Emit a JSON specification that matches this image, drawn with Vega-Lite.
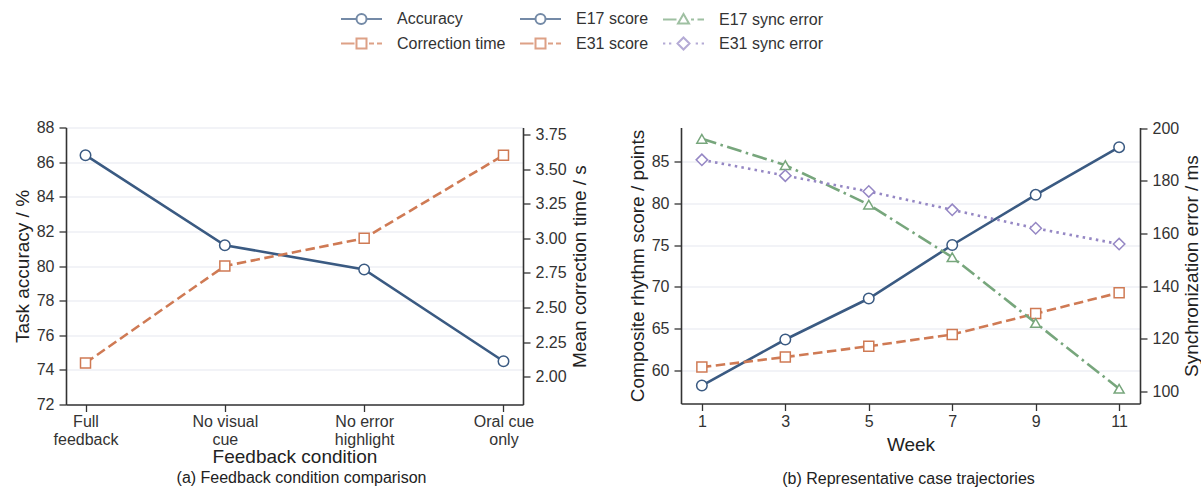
{
  "$schema": "https://vega.github.io/schema/vega-lite/v6.json",
  "padding": {"left": 13, "top": 10.5, "right": 5, "bottom": 5},
  "background": "white",
  "datasets": {
    "a": [
      {"series": "Accuracy", "condition": "Full feedback", "value": 86.4},
      {"series": "Accuracy", "condition": "No visual cue", "value": 81.2},
      {"series": "Accuracy", "condition": "No error highlight", "value": 79.8},
      {"series": "Accuracy", "condition": "Oral cue only", "value": 74.5},
      {"series": "Correction time", "condition": "Full feedback", "value": 2.1},
      {"series": "Correction time", "condition": "No visual cue", "value": 2.8},
      {"series": "Correction time", "condition": "No error highlight", "value": 3.0},
      {"series": "Correction time", "condition": "Oral cue only", "value": 3.6}
    ],
    "b": [
      {"series": "E17 score", "week": 1, "value": 58.2},
      {"series": "E17 score", "week": 3, "value": 63.7},
      {"series": "E17 score", "week": 5, "value": 68.6},
      {"series": "E17 score", "week": 7, "value": 75.0},
      {"series": "E17 score", "week": 9, "value": 81.0},
      {"series": "E17 score", "week": 11, "value": 86.7},
      {"series": "E31 score", "week": 1, "value": 60.4},
      {"series": "E31 score", "week": 3, "value": 61.6},
      {"series": "E31 score", "week": 5, "value": 62.9},
      {"series": "E31 score", "week": 7, "value": 64.3},
      {"series": "E31 score", "week": 9, "value": 66.8},
      {"series": "E31 score", "week": 11, "value": 69.3},
      {"series": "E17 sync error", "week": 1, "value": 196},
      {"series": "E17 sync error", "week": 3, "value": 186},
      {"series": "E17 sync error", "week": 5, "value": 171},
      {"series": "E17 sync error", "week": 7, "value": 151},
      {"series": "E17 sync error", "week": 9, "value": 126},
      {"series": "E17 sync error", "week": 11, "value": 101},
      {"series": "E31 sync error", "week": 1, "value": 188},
      {"series": "E31 sync error", "week": 3, "value": 182},
      {"series": "E31 sync error", "week": 5, "value": 176},
      {"series": "E31 sync error", "week": 7, "value": 169},
      {"series": "E31 sync error", "week": 9, "value": 162},
      {"series": "E31 sync error", "week": 11, "value": 156}
    ]
  },
  "spacing": 38,
  "resolve": {"scale": {"color": "shared", "shape": "shared"}, "legend": {"color": "shared", "shape": "shared"}},
  "hconcat": [
    {
      "data": {"name": "a"},
      "width": 457,
      "height": 277,
      "title": {"text": "(a) Feedback condition comparison", "orient": "bottom", "fontSize": 16, "fontWeight": "normal", "color": "#222222", "font": "Liberation Sans", "offset": 3, "frame": "group", "anchor": "middle", "dx": 7},
      "encoding": {
        "x": {
          "field": "condition", "type": "nominal",
          "scale": {"type": "point", "domain": ["Full feedback", "No visual cue", "No error highlight", "Oral cue only"], "padding": 0.14},
          "axis": {
            "title": "Feedback condition", "labelAngle": 0, "grid": false, "labelLineHeight": 18, "labelPadding": 2, "titlePadding": 0,
            "labelExpr": "datum.value == 'Full feedback' ? ['Full', 'feedback'] : datum.value == 'No visual cue' ? ['No visual', 'cue'] : datum.value == 'No error highlight' ? ['No error', 'highlight'] : ['Oral cue', 'only']"
          }
        }
      },
      "layer": [
        {
          "transform": [{"filter": "datum.series == 'Accuracy'"}],
          "encoding": {
            "y": {"field": "value", "type": "quantitative", "scale": {"domain": [72, 88], "nice": false, "zero": false},
                  "axis": {"title": "Task accuracy / %", "values": [72, 74, 76, 78, 80, 82, 84, 86, 88], "grid": true, "titlePadding": 4}}
          },
          "layer": [
            {"mark": {"type": "line", "color": "#3a5a82", "strokeWidth": 2.6}},
            {"mark": {"type": "point", "shape": "circle", "size": 110, "filled": true, "fill": "white", "stroke": "#3a5a82", "strokeWidth": 1.5, "opacity": 1}}
          ]
        },
        {
          "transform": [{"filter": "datum.series == 'Correction time'"}],
          "encoding": {
            "y": {"field": "value", "type": "quantitative", "scale": {"domain": [1.8, 3.8], "nice": false, "zero": false},
                  "axis": {"orient": "right", "title": "Mean correction time / s", "values": [2, 2.25, 2.5, 2.75, 3, 3.25, 3.5, 3.75], "format": ".2f", "grid": false, "titleAngle": 270, "titleBaseline": "top", "titlePadding": 4}}
          },
          "layer": [
            {"mark": {"type": "line", "color": "#cf7a54", "strokeWidth": 2.6, "strokeDash": [9.5, 4.5]}},
            {"mark": {"type": "point", "shape": "square", "size": 100, "filled": true, "fill": "white", "stroke": "#cf7a54", "strokeWidth": 1.5, "opacity": 1}}
          ]
        },
        {
          "transform": [{"filter": "false"}],
          "mark": {"type": "point", "filled": false, "strokeWidth": 2},
          "encoding": {
            "color": {
              "field": "series", "type": "nominal",
              "scale": {"domain": ["Accuracy", "E17 score", "E17 sync error", "Correction time", "E31 score", "E31 sync error"],
                        "range": ["#3a5a82", "#3a5a82", "#77a67c", "#cf7a54", "#cf7a54", "#9587c4"]},
              "legend": {"title": null, "orient": "none", "legendX": 272, "legendY": -116.5, "columns": 3, "direction": "horizontal", "labelFontSize": 16, "labelFont": "Liberation Sans", "labelColor": "#333333", "symbolSize": 100, "symbolStrokeWidth": 2, "labelOffset": 43, "columnPadding": 10, "rowPadding": 5.5, "symbolFillColor": "white"}
            },
            "shape": {
              "field": "series", "type": "nominal",
              "scale": {"domain": ["Accuracy", "E17 score", "E17 sync error", "Correction time", "E31 score", "E31 sync error"],
                        "range": [
                          "M-1,0H2.1M4.1,0H7.2M4.1,0A1,1,0,1,1,2.1,0A1,1,0,1,1,4.1,0Z",
                          "M-1,0H2.1M4.1,0H7.2M4.1,0A1,1,0,1,1,2.1,0A1,1,0,1,1,4.1,0Z",
                          "M-1,0H1.7M4.6,0H5.2M5.9,0H7.2M3.1,-1.1L4.2,0.8L2,0.8Z",
                          "M-1,0H1.7M4.6,0H5.6M6.2,0H7.2M2.1,-1H4.1V1H2.1Z",
                          "M-1,0H1.7M4.6,0H5.6M6.2,0H7.2M2.1,-1H4.1V1H2.1Z",
                          "M-1,0H-0.54M0.2,0H0.66M5.54,0H6M6.74,0H7.2M3.1,-1.2L4.3,0L3.1,1.2L1.9,0Z"
                        ]},
              "legend": {"title": null, "orient": "none", "legendX": 272, "legendY": -116.5, "columns": 3, "direction": "horizontal", "labelFontSize": 16, "labelFont": "Liberation Sans", "labelColor": "#333333", "symbolSize": 100, "symbolStrokeWidth": 2, "labelOffset": 43, "columnPadding": 10, "rowPadding": 5.5, "symbolFillColor": "white"}
            }
          }
        }
      ],
      "resolve": {"scale": {"y": "independent"}}
    },
    {
      "data": {"name": "b"},
      "width": 459,
      "height": 276,
      "title": {"text": "(b) Representative case trajectories", "orient": "bottom", "fontSize": 16, "fontWeight": "normal", "color": "#222222", "font": "Liberation Sans", "offset": 16, "frame": "group", "anchor": "middle", "dx": -2},
      "encoding": {
        "x": {"field": "week", "type": "quantitative", "scale": {"domain": [0.5, 11.5], "nice": false, "zero": false},
              "axis": {"title": "Week", "values": [1, 3, 5, 7, 9, 11], "grid": false, "labelPadding": 3, "titlePadding": 6}}
      },
      "layer": [
        {
          "encoding": {
            "y": {"field": "value", "type": "quantitative", "scale": {"domain": [56.05, 89.05], "nice": false, "zero": false},
                  "axis": {"title": "Composite rhythm score / points", "values": [60, 65, 70, 75, 80, 85], "grid": true, "titlePadding": 4}}
          },
          "layer": [
            {"transform": [{"filter": "datum.series == 'E17 score'"}], "mark": {"type": "line", "color": "#3a5a82", "strokeWidth": 2.6}},
            {"transform": [{"filter": "datum.series == 'E17 score'"}], "mark": {"type": "point", "shape": "circle", "size": 110, "filled": true, "fill": "white", "stroke": "#3a5a82", "strokeWidth": 1.5, "opacity": 1}},
            {"transform": [{"filter": "datum.series == 'E31 score'"}], "mark": {"type": "line", "color": "#cf7a54", "strokeWidth": 2.6, "strokeDash": [9.5, 4.5]}},
            {"transform": [{"filter": "datum.series == 'E31 score'"}], "mark": {"type": "point", "shape": "square", "size": 100, "filled": true, "fill": "white", "stroke": "#cf7a54", "strokeWidth": 1.5, "opacity": 1}}
          ]
        },
        {
          "encoding": {
            "y": {"field": "value", "type": "quantitative", "scale": {"domain": [95.4, 200.3], "nice": false, "zero": false},
                  "axis": {"orient": "right", "title": "Synchronization error / ms", "values": [100, 120, 140, 160, 180, 200], "grid": false, "titleAngle": 270, "titleBaseline": "top", "titlePadding": 4}}
          },
          "layer": [
            {"transform": [{"filter": "datum.series == 'E17 sync error'"}], "mark": {"type": "line", "color": "#77a67c", "strokeWidth": 2.6, "strokeDash": [15, 4.5, 2.5, 4.5]}},
            {"transform": [{"filter": "datum.series == 'E17 sync error'"}], "mark": {"type": "point", "shape": "triangle-up", "size": 100, "filled": true, "fill": "white", "stroke": "#77a67c", "strokeWidth": 1.5, "opacity": 1}},
            {"transform": [{"filter": "datum.series == 'E31 sync error'"}], "mark": {"type": "line", "color": "#9587c4", "strokeWidth": 2.6, "strokeDash": [2.5, 4.2]}},
            {"transform": [{"filter": "datum.series == 'E31 sync error'"}], "mark": {"type": "point", "shape": "diamond", "size": 130, "filled": true, "fill": "white", "stroke": "#9587c4", "strokeWidth": 1.5, "opacity": 1}}
          ]
        }
      ],
      "resolve": {"scale": {"y": "independent"}}
    }
  ],
  "config": {
    "view": {"stroke": null},
    "font": "Liberation Sans",
    "axis": {
      "domainColor": "#333333", "domainWidth": 1.6, "tickColor": "#333333", "tickWidth": 1.3, "tickSize": 7,
      "labelColor": "#333333", "labelFont": "Liberation Sans", "labelFontSize": 16, "labelPadding": 5,
      "titleFont": "Liberation Sans", "titleFontSize": 19, "titleFontWeight": "normal", "titleColor": "#222222",
      "gridColor": "#e5e8ef", "gridWidth": 1.2
    }
  }
}
